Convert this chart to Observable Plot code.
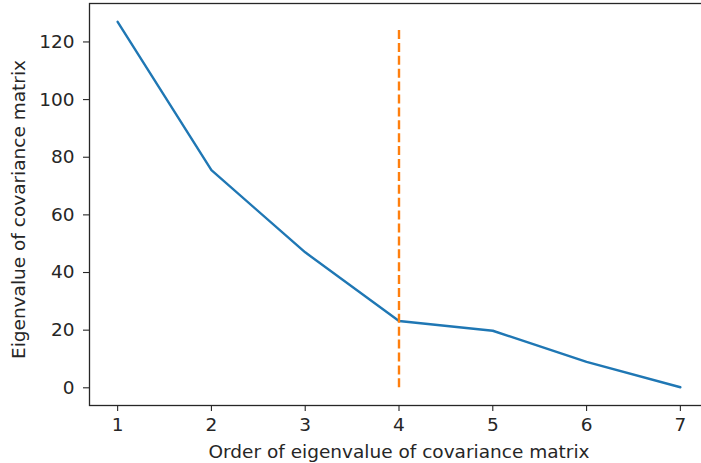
<!DOCTYPE html>
<html>
<head>
<meta charset="utf-8">
<script src="https://cdn.jsdelivr.net/npm/d3@7"></script>
<script src="https://cdn.jsdelivr.net/npm/@observablehq/plot@0.6"></script>
<style>
  html, body { margin: 0; padding: 0; background: white; overflow: hidden; }
  #chart svg { overflow: hidden; }
</style>
</head>
<body>
<div id="chart"></div>
<script>
const order = [1, 2, 3, 4, 5, 6, 7];
const eigenvalues = [127, 75.5, 47, 23.2, 19.8, 9, 0.2];
const xTicks = [1, 2, 3, 4, 5, 6, 7];
const yTicks = [0, 20, 40, 60, 80, 100, 120];
const cutoff = 4;
const cutoffRange = [0, 125];
const xLabel = "Order of eigenvalue of covariance matrix";
const yLabel = "Eigenvalue of covariance matrix";

const data = order.map((o, i) => ({order: o, value: eigenvalues[i]}));
const ymin = Math.min(...eigenvalues), ymax = Math.max(...eigenvalues);
const ypad = (ymax - ymin) * 0.05;
const xmin = Math.min(...order), xmax = Math.max(...order);
const xpad = (xmax - xmin) * 0.05;

const plot = Plot.plot({
  width: 701,
  height: 463,
  marginLeft: 89,
  marginRight: -7,
  marginTop: 3,
  marginBottom: 58,
  style: {fontFamily: "DejaVu Sans", fontSize: "18.5px", color: "#262626", background: "white"},
  x: {domain: [xmin - xpad, xmax + xpad], label: null},
  y: {domain: [ymin - ypad, ymax + ypad], label: null},
  marks: [
    Plot.line(data, {x: "order", y: "value", stroke: "#1f77b4", strokeWidth: 2.4}),
    Plot.ruleX([cutoff], {y1: cutoffRange[0], y2: cutoffRange[1], stroke: "#ff7f0e", strokeWidth: 2.4, strokeDasharray: "9,3.9"}),
    Plot.frame({stroke: "#262626", strokeWidth: 1.3}),
    Plot.axisX({ticks: xTicks, tickSize: 6, tickPadding: 6, tickFormat: d => String(d), stroke: "#262626", strokeWidth: 1.1, fontSize: 18.5, label: null}),
    Plot.axisY({ticks: yTicks, tickSize: 6, tickPadding: 9, tickFormat: d => String(d), stroke: "#262626", strokeWidth: 1.1, fontSize: 18.5, label: null}),
    Plot.text([xLabel], {frameAnchor: "bottom", dy: 47, lineAnchor: "middle", textAnchor: "middle", fontSize: 18.5, fill: "#262626"}),
    Plot.text([yLabel], {frameAnchor: "left", dx: -70, dy: 5, rotate: -90, lineAnchor: "middle", textAnchor: "middle", fontSize: 18.5, fill: "#262626"})
  ]
});
document.getElementById("chart").appendChild(plot);
</script>
</body>
</html>
